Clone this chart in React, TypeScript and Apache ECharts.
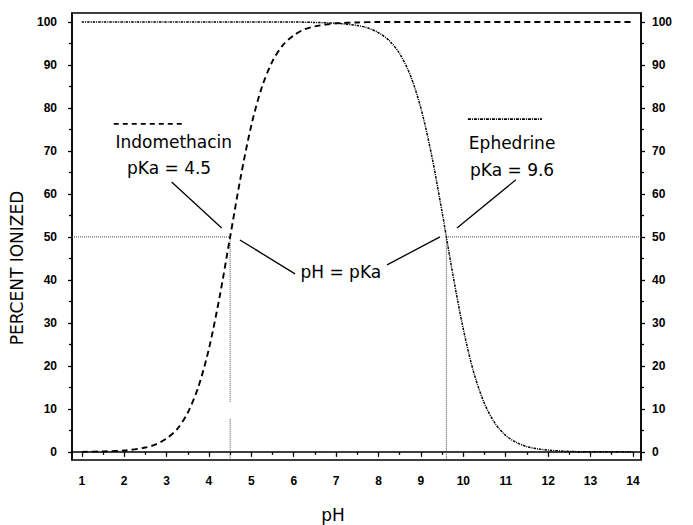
import React, { useEffect, useRef } from "react";
import * as echarts from "echarts";

// ---- data ----
const xTickLabels = [1, 2, 3, 4, 5, 6, 7, 8, 9, 10, 11, 12, 13, 14];
const xMinorTicks = [1.5, 2.5, 3.5, 4.5, 5.5, 6.5, 7.5, 8.5, 9.5, 10.5, 11.5, 12.5, 13.5];
const yTickLabels = [0, 10, 20, 30, 40, 50, 60, 70, 80, 90, 100];
const yMinorTicks = [5, 15, 25, 35, 45, 55, 65, 75, 85, 95];

const indoPH = [1, 1.5, 2, 2.5, 2.75, 3, 3.25, 3.5, 3.75, 4, 4.25, 4.5, 4.75, 5, 5.25, 5.5, 5.75, 6, 6.25, 6.5, 6.75, 7, 7.5, 8, 9, 10, 11, 12, 13, 14];
const indoPct = [0.0, 0.1, 0.3, 1.0, 1.75, 3.1, 5.3, 9.1, 15.1, 24.0, 36.0, 50.0, 64.0, 76.0, 84.9, 90.9, 94.7, 96.9, 98.3, 99.0, 99.4, 99.7, 99.9, 100, 100, 100, 100, 100, 100, 100];

const ephPH = [1, 2, 3, 4, 5, 6, 6.5, 7, 7.5, 7.75, 8, 8.25, 8.5, 8.75, 9, 9.25, 9.5, 9.75, 10, 10.25, 10.5, 10.75, 11, 11.25, 11.5, 11.75, 12, 12.5, 13, 13.5, 14];
const ephPct = [100, 100, 100, 100, 100, 100, 99.9, 99.7, 99.2, 98.6, 97.5, 95.7, 92.6, 87.6, 79.9, 69.1, 55.7, 41.4, 28.5, 18.3, 11.2, 6.6, 3.8, 2.2, 1.2, 0.7, 0.4, 0.1, 0.0, 0.0, 0.0];

const pKaIndo = 4.5;
const pKaEph = 9.6;
const halfIonized = 50;
const xRange = [0.77, 14.19];
const yRange = [-1.9, 102.1];

// annotation leader lines (data coords)
const leaderIndo = [[3.12, 62.8], [4.3, 52.1]];
const leaderPhLeft = [[4.73, 49.3], [6.03, 41.4]];
const leaderPhRight = [[8.2, 43.5], [9.45, 50.0]];
const leaderEph = [[9.85, 52.1], [11.24, 63.3]];
const legendIndo = [[1.755, 76.3], [3.454, 76.3]];
const legendEph = [[10.108, 77.4], [11.854, 77.4]];

const textLabels = ["Indomethacin", "pKa = 4.5", "pH = pKa", "Ephedrine", "pKa = 9.6"];
const textAnchors = [[3.17, 72.1], [3.06, 66.0], [7.11, 41.9], [11.15, 71.9], [11.15, 65.6]];

const FONT = "DejaVu Sans";
const TICK_FONT = "Liberation Sans";

export default function App() {
  const ref = useRef<HTMLDivElement>(null);
  useEffect(() => {
    if (!ref.current) return;
    const chart = echarts.init(ref.current, undefined, { renderer: "svg" });

    const baseX = {
      type: "value",
      min: xRange[0],
      max: xRange[1],
      position: "bottom",
      splitLine: { show: false },
    };
    const baseY = {
      type: "value",
      min: yRange[0],
      max: yRange[1],
      splitLine: { show: false },
    };
    const axisLine = { show: true, lineStyle: { color: "#000", width: 1.5 } };
    const labelStyle = { color: "#000", fontFamily: TICK_FONT, fontSize: 12, fontWeight: "bold" };

    const plain = (data: number[][], style: any, z = 2) => ({
      type: "line",
      data,
      showSymbol: false,
      symbol: "none",
      silent: true,
      lineStyle: style,
      z,
      xAxisIndex: 0,
      yAxisIndex: 0,
    });

    const dotted = { color: "#444", width: 1, type: [1, 1] };
    const leader = { color: "#000", width: 1.3, type: "solid" };

    chart.setOption({
      animation: false,
      backgroundColor: "#fff",
      grid: {
        left: 72,
        right: 52,
        top: 13,
        bottom: 65,
        show: true,
        borderColor: "#000",
        borderWidth: 1.5,
        backgroundColor: "transparent",
      },
      xAxis: [
        {
          ...baseX,
          axisLine,
          axisTick: { show: true, customValues: xTickLabels, length: 5, lineStyle: { color: "#000", width: 1.3 } },
          axisLabel: { show: true, customValues: xTickLabels, margin: 15, ...labelStyle },
        },
        {
          ...baseX,
          axisLine: { show: false },
          axisTick: { show: true, customValues: xMinorTicks, length: 3, lineStyle: { color: "#000", width: 1.3 } },
          axisLabel: { show: false },
        },
      ],
      yAxis: [
        {
          ...baseY,
          position: "left",
          axisLine,
          axisTick: { show: true, customValues: yTickLabels, length: 4, lineStyle: { color: "#000", width: 1.3 } },
          axisLabel: { show: true, customValues: yTickLabels, margin: 15, ...labelStyle },
        },
        {
          ...baseY,
          position: "left",
          axisLine: { show: false },
          axisTick: { show: true, customValues: yMinorTicks, length: 3, lineStyle: { color: "#000", width: 1.3 } },
          axisLabel: { show: false },
        },
        {
          ...baseY,
          position: "right",
          axisLine,
          axisTick: { show: true, customValues: yTickLabels, length: 4, lineStyle: { color: "#000", width: 1.3 } },
          axisLabel: { show: true, customValues: yTickLabels, margin: 11, ...labelStyle },
        },
        {
          ...baseY,
          position: "right",
          axisLine: { show: false },
          axisTick: { show: true, customValues: yMinorTicks, length: 3, lineStyle: { color: "#000", width: 1.3 } },
          axisLabel: { show: false },
        },
      ],
      series: [
        {
          ...plain(indoPH.map((x, i) => [x, indoPct[i]]), { color: "#000", width: 1.9, type: [6, 4] }, 5),
          name: "Indomethacin",
          smooth: 0.3,
        },
        {
          ...plain(ephPH.map((x, i) => [x, ephPct[i]]), { color: "#000", width: 1.5, type: [2.5, 1, 1, 1] }, 5),
          name: "Ephedrine",
          smooth: 0.3,
        },
        plain([[xRange[0], halfIonized], [pKaIndo, halfIonized], [pKaIndo, 11.6]], dotted),
        plain([[pKaIndo, 7.7], [pKaIndo, yRange[0]]], dotted),
        plain([[xRange[1], halfIonized], [pKaEph, halfIonized], [pKaEph, yRange[0]]], dotted),
        plain(leaderIndo, leader),
        plain(leaderPhLeft, leader),
        plain(leaderPhRight, leader),
        plain(leaderEph, leader),
        plain(legendIndo, { color: "#000", width: 1.6, type: [5, 4] }),
        plain(legendEph, { color: "#000", width: 1.6, type: [3, 1, 1, 1] }),
      ],
    });

    const texts = textLabels.map((t, i) => {
      const p = chart.convertToPixel({ xAxisIndex: 0, yAxisIndex: 0 }, textAnchors[i]) as number[];
      return {
        type: "text",
        x: p[0],
        y: p[1],
        z: 10,
        style: {
          text: t,
          fontFamily: FONT,
          fontSize: 17,
          fill: "#000",
          align: "center",
          verticalAlign: "middle",
        },
      };
    });

    chart.setOption({
      graphic: [
        ...texts,
        {
          type: "text",
          x: 17,
          y: 268,
          rotation: Math.PI / 2,
          style: {
            text: "PERCENT IONIZED",
            fontFamily: FONT,
            fontSize: 17,
            fill: "#000",
            align: "center",
            verticalAlign: "middle",
          },
        },
        {
          type: "text",
          x: 333,
          y: 515,
          style: {
            text: "pH",
            fontFamily: FONT,
            fontSize: 17,
            fill: "#000",
            align: "center",
            verticalAlign: "middle",
          },
        },
      ],
    });
    return () => chart.dispose();
  }, []);

  return (
    <div
      ref={ref}
      style={{ position: "fixed", left: 0, top: 0, width: 693, height: 525, background: "#fff" }}
    />
  );
}
